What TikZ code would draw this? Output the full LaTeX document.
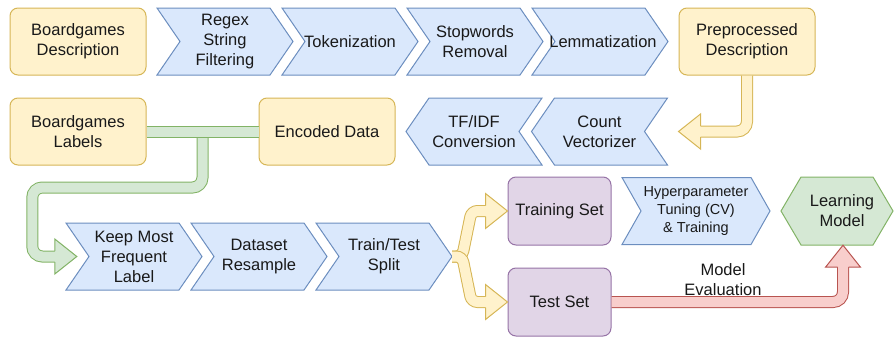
\documentclass[tikz,border=0pt]{standalone}
\usepackage{fontspec}
\setmainfont{Liberation Sans}
\usepackage{xcolor}
\usetikzlibrary{calc}
\definecolor{ylwfill}{HTML}{FFF2CC}
\definecolor{ylwline}{HTML}{D6B656}
\definecolor{bluefill}{HTML}{DAE8FC}
\definecolor{blueline}{HTML}{6C8EBF}
\definecolor{grnfill}{HTML}{D5E8D4}
\definecolor{grnline}{HTML}{82B366}
\definecolor{purfill}{HTML}{E1D5E7}
\definecolor{purline}{HTML}{9673A6}
\definecolor{redfill}{HTML}{F8CECC}
\definecolor{redline}{HTML}{B85450}
\pgfkeys{tikz/flowtext/.style={align=center,text=black!90,font=\fontsize{16.5}{20}\selectfont,inner sep=0pt}}
\pgfkeys{tikz/flowsmall/.style={font=\fontsize{14.5}{18}\selectfont}}
\pgfkeys{tikz/flowbox/.style 2 args={flowtext,draw=#2,fill=#1,line width=1pt,rounded corners=8pt,minimum width=136pt,minimum height=67pt}}
\pgfkeys{tikz/flowstepline/.style={draw=blueline,fill=bluefill,line width=1pt}}
\pgfkeys{tikz/flowpipe/.style 2 args={draw=#2,double=#1,double distance=10pt,line width=1pt,rounded corners=10pt}}
\pgfkeys{tikz/flowhead/.style 2 args={draw=#2,fill=#1,line width=1pt}}
\newcommand\flowheadlen{22}
\newcommand*\flowstep[8][]{
    \begin{scope}[shift={(#3,#4)},xscale=#5]
        \draw[flowstepline] (-#6,-33.5) -- (#6-#7,-33.5) -- (#6,0) -- (#6-#7,33.5)
            -- (-#6,33.5) -- (-#6+#7,0) -- cycle;
    \end{scope}
    \node[flowtext,minimum width=2*#6,minimum height=67,#1] (#2) at (#3,#4) {#8};
}
\newcommand*\flowarrowhead[4]{
    \filldraw[flowhead={#1}{#2},shift={(#3)},rotate=#4] (-\flowheadlen,-5.5) -- (-\flowheadlen,-17.5)
        -- (0,0) -- (-\flowheadlen,17.5) -- (-\flowheadlen,5.5);
}

\begin{document}
\begin{tikzpicture}[x=1pt,y=-1pt]
    \useasboundingbox (0,0) rectangle (894,340);
    % text preprocessing
    \node[flowbox={ylwfill}{ylwline}] (desc) at (78,41.5) {Boardgames\\Description};
    \flowstep{regex}{225}{41.5}{1}{68}{23}{Regex\\String\\Filtering}
    \flowstep{token}{350}{41.5}{1}{68}{23}{Tokenization}
    \flowstep{stop}{475}{41.5}{1}{68}{23}{Stopwords\\Removal}
    \flowstep[xshift=3pt]{lemma}{600}{41.5}{1}{68}{23}{Lemmatization}
    \node[flowbox={ylwfill}{ylwline}] (pre) at (747,41.5) {Preprocessed\\Description};
    % vectorizing
    \node[flowbox={ylwfill}{ylwline}] (labels) at (78,131.5) {Boardgames\\Labels};
    \node[flowbox={ylwfill}{ylwline}] (encoded) at (327,131.5) {Encoded Data};
    \flowstep{tfidf}{474}{131.5}{-1}{68}{23}{TF/IDF\\Conversion}
    \flowstep{count}{599.5}{131.5}{-1}{68}{23}{Count\\Vectorizer}
    % dataset
    \flowstep{keep}{134}{256.5}{1}{68}{23}{Keep Most\\Frequent\\Label}
    \flowstep{resample}{259}{256.5}{1}{68}{23}{Dataset\\Resample}
    \flowstep{split}{384}{256.5}{1}{68}{23}{Train/Test\\Split}
    \node[flowbox={purfill}{purline},minimum width=103pt,minimum height=68pt] (train) at (559.5,211) {Training Set};
    \node[flowbox={purfill}{purline},minimum width=103pt,minimum height=68pt] (test) at (559.5,302) {Test Set};
    \flowstep[flowsmall]{tuning}{696}{211}{1}{74}{19}{Hyperparameter\\Tuning (CV)\\\& Training}
    \draw[flowhead={grnfill}{grnline}] (781,211) -- (801,177) -- (873,177) -- (893,211) -- (873,245) -- (801,245) -- cycle;
    \node[flowtext,minimum width=102pt,minimum height=68pt] (model) at (842,211) {Learning\\Model};
    % connectors
    \draw[flowpipe={ylwfill}{ylwline}] (pre.south) -- (pre.south |- count) -- ($(pre.west |- count)+(\flowheadlen-1,0)$);
    \flowarrowhead{ylwfill}{ylwline}{pre.west |- count}{180}
    \coordinate (labelfork) at ($(labels.east)!.5!(encoded.west)$);
    \coordinate (keeptip) at ($(keep.west)+(11,0)$);
    \draw[flowpipe={grnfill}{grnline}] (labelfork) -- ++(0,56) -| ($(keeptip)+(-44.5,0)$) -- ($(keeptip)+(-21,0)$);
    \draw[flowpipe={grnfill}{grnline}] (labels.east) -- (encoded.west);
    \flowarrowhead{grnfill}{grnline}{keeptip}{0}
    \draw[flowpipe={ylwfill}{ylwline},rounded corners=6pt] (split.east) -- ++(10,0) -- ($(train.west)+(-36,0)$) -- ($(train.west)+(-21,0)$);
    \draw[flowpipe={ylwfill}{ylwline},rounded corners=6pt] (split.east) -- ++(10,0) -- ($(test.west)+(-36,0)$) -- ($(test.west)+(-21,0)$);
    \flowarrowhead{ylwfill}{ylwline}{train.west}{0}
    \flowarrowhead{ylwfill}{ylwline}{test.west}{0}
    \draw[flowpipe={redfill}{redline}] (test.east) -| ($(model.south)+(1,\flowheadlen-1)$);
    \flowarrowhead{redfill}{redline}{$(model.south)+(1,0)$}{90}
    \node[flowtext] (evallabel) at (723,280) {Model\\Evaluation};
\end{tikzpicture}
\end{document}
